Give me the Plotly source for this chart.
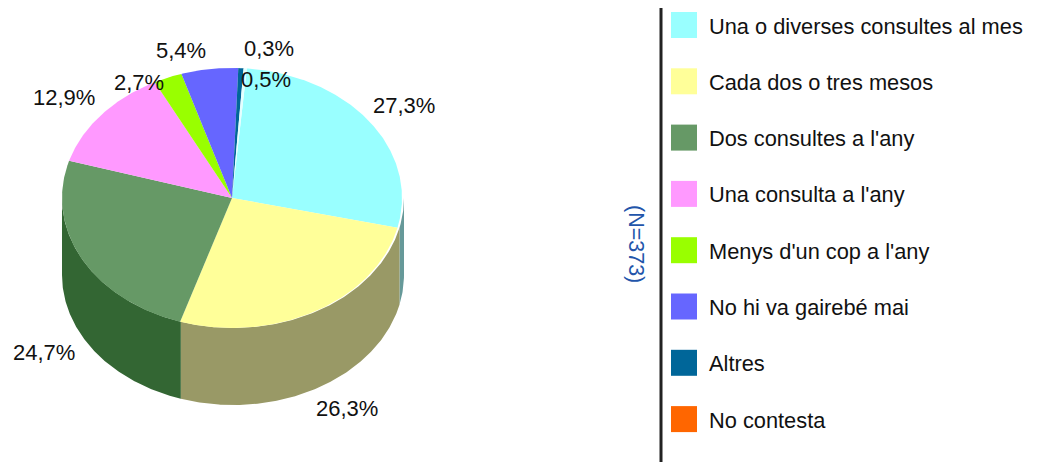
import math
import plotly.graph_objects as go

categories = ["Una o diverses consultes al mes", "Cada dos o tres mesos", "Dos consultes a l'any",
              "Una consulta a l'any", "Menys d'un cop a l'any", "No hi va gairebé mai", "Altres", "No contesta"]
values = [27.3, 26.3, 24.7, 12.9, 2.7, 5.4, 0.5, 0.3]
labels = ["27,3%", "26,3%", "24,7%", "12,9%", "2,7%", "5,4%", "0,5%", "0,3%"]
legend_colors = ["#99FFFF", "#FFFF99", "#669966", "#FF99FF", "#99FF00", "#6666FF", "#006699", "#FF6600"]
top_colors = ["#99FFFF", "#FFFF99", "#669966", "#FF99FF", "#99FF00", "#6666FF", "#006699", "#E4FFFF"]
side_colors = ["#669999", "#999966", "#336633", "#996699", "#669900", "#4444AA", "#004466", "#993D00"]
label_nudge = [(34, -16), (31.5, 97), (-38, 94), (-37, -17), (-29, 5), (-29, -19), (25, 11), (24, -19.5)]

CX, CY, RX, RY, DEPTH, SIDE_RX, SIDE_SHIFT = 232, 198, 170, 130, 77, 171, 1
START = 5.0
FONT = "Liberation Sans, Arial, sans-serif"


def pt(deg, rx=RX, cy=CY, cx=CX):
    a = math.radians(deg)
    return cx + rx * math.sin(a), cy - RY * math.cos(a)


def arc(a0, a1, rx=RX, cy=CY, cx=CX):
    n = max(2, int(abs(a1 - a0)) * 2 + 2)
    return [pt(a0 + (a1 - a0) * i / (n - 1), rx, cy, cx) for i in range(n)]


fig = go.Figure()
total = sum(values)
spans = []
a = START
for v in values:
    spans.append((a, a + v / total * 360))
    a += v / total * 360

# extruded rim: only the front half of the cylinder is visible
for (a0, a1), col in zip(spans, side_colors):
    lo, hi = max(a0, 90), min(a1, 270)
    if lo >= hi:
        continue
    pts = arc(lo, hi, SIDE_RX, CY, CX + SIDE_SHIFT) + arc(hi, lo, SIDE_RX, CY + DEPTH, CX + SIDE_SHIFT)
    fig.add_trace(go.Scatter(x=[p[0] for p in pts], y=[p[1] for p in pts], mode="lines", fill="toself",
                             fillcolor=col, line=dict(width=0), hoverinfo="skip", showlegend=False))

# top face
for (a0, a1), col, name in zip(spans, top_colors, categories):
    pts = [(CX, CY)] + arc(a0, a1) + [(CX, CY)]
    fig.add_trace(go.Scatter(x=[p[0] for p in pts], y=[p[1] for p in pts], mode="lines", fill="toself",
                             fillcolor=col, line=dict(width=0), name=name, hoverinfo="name", showlegend=False))

annotations = []
# slice labels, anchored to the rim point at each slice's mid angle
for (a0, a1), text, (dx, dy) in zip(spans, labels, label_nudge):
    x, y = pt((a0 + a1) / 2)
    annotations.append(dict(x=x + dx, y=y + dy, text=text, showarrow=False, xanchor="center", yanchor="middle",
                            font=dict(family=FONT, size=22, color="#111111")))

# legend
leg_y = [25 + 56.3 * i for i in range(len(categories))]
fig.add_trace(go.Scatter(x=[684] * len(categories), y=leg_y, mode="markers",
                         marker=dict(symbol="square", size=26, color=legend_colors, line=dict(width=0)),
                         hoverinfo="skip", showlegend=False))
for y, name in zip(leg_y, categories):
    annotations.append(dict(x=707, y=y + 1, text=name, showarrow=False, xanchor="left", yanchor="middle",
                            font=dict(family=FONT, size=21.8, color="#111111")))

annotations.append(dict(x=636, y=244, text="(N=373)", textangle=90, showarrow=False,
                        xanchor="center", yanchor="middle", font=dict(family=FONT, size=21.5, color="#2255AA")))

fig.update_layout(
    width=1041, height=462, margin=dict(l=0, r=0, t=0, b=0),
    paper_bgcolor="white", plot_bgcolor="white",
    xaxis=dict(range=[0, 1041], visible=False, fixedrange=True),
    yaxis=dict(range=[462, 0], visible=False, fixedrange=True),
    annotations=annotations,
    shapes=[dict(type="line", x0=661, x1=661, y0=8, y1=462, line=dict(color="#222222", width=3))],
)
fig.write_html("out.html", config=dict(displayModeBar=False),
               post_script="document.body.style.margin='0';document.body.style.overflow='hidden';")
